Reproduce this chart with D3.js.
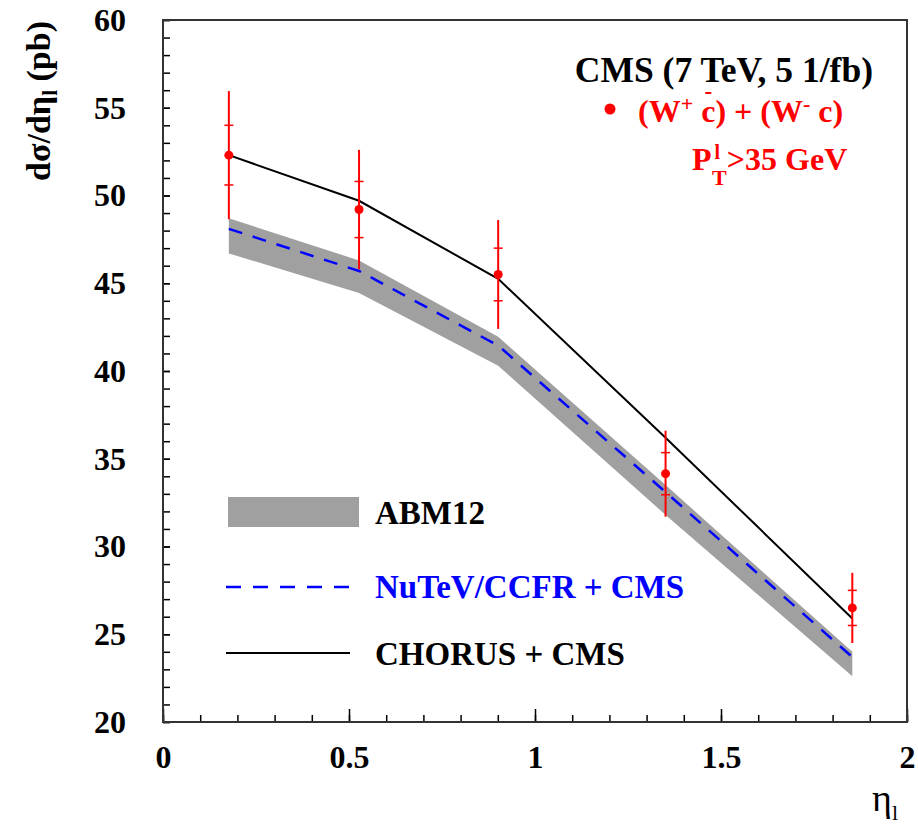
<!DOCTYPE html>
<html>
<head>
<meta charset="utf-8">
<script src="https://cdn.jsdelivr.net/npm/d3@7"></script>
<style>
  body { margin: 0; background: #fff; }
  svg text { font-family: "Liberation Serif", "Times New Roman", serif; font-weight: bold; }
</style>
</head>
<body>
<svg id="chart" width="918" height="825"></svg>
<script>
// pontos medidos (CMS)
const eta = [0.177, 0.527, 0.901, 1.351, 1.853];
const xsec = [52.3, 49.2, 45.5, 34.15, 26.5];
const errStat = [1.7, 1.6, 1.5, 1.2, 1.0];
const errTot = [3.65, 3.4, 3.1, 2.45, 2.0];

// predicoes
const abmUp = [48.7, 46.3, 41.95, 33.5, 24.0];
const abmDown = [46.7, 44.45, 40.3, 31.8, 22.6];
const nutev = [48.1, 45.7, 41.45, 33.1, 23.7];
const chorus = [52.3, 49.7, 45.25, 36.2, 25.9];

// eixos
const xTicks = [0, 0.5, 1, 1.5, 2];
const yTicks = [20, 25, 30, 35, 40, 45, 50, 55, 60];
const xMinor = d3.range(0, 2.001, 0.1);
const yMinor = d3.range(20, 60.001, 1);

const margens = { left: 163, right: 11, top: 20, bottom: 103 };

const svg = d3.select('#chart');
const width = 918 - margens.left - margens.right;
const height = 825 - margens.top - margens.bottom;

const x = d3.scaleLinear().domain([0, 2]).range([0, width]);
const y = d3.scaleLinear().domain([20, 60]).range([height, 0]);

const g = svg.append('g')
    .attr('transform', `translate(${margens.left}, ${margens.top})`);

const data = eta.map((e, i) => ({
    eta: e, v: xsec[i], stat: errStat[i], tot: errTot[i],
    up: abmUp[i], down: abmDown[i], nu: nutev[i], ch: chorus[i]
}));

// banda ABM12
g.append('path')
    .datum(data)
    .attr('fill', '#a0a0a0')
    .attr('d', d3.area().x(d => x(d.eta)).y0(d => y(d.down)).y1(d => y(d.up)));

// NuTeV/CCFR tracejado
g.append('path')
    .datum(data)
    .attr('fill', 'none')
    .attr('stroke', '#0000ff')
    .attr('stroke-width', 2.5)
    .attr('stroke-dasharray', '14,11')
    .attr('d', d3.line().x(d => x(d.eta)).y(d => y(d.nu)));

// CHORUS
g.append('path')
    .datum(data)
    .attr('fill', 'none')
    .attr('stroke', '#000')
    .attr('stroke-width', 2)
    .attr('d', d3.line().x(d => x(d.eta)).y(d => y(d.ch)));

// barras de erro
const pts = g.selectAll('.pt').data(data).enter().append('g').attr('class', 'pt');
pts.append('line')
    .attr('x1', d => x(d.eta)).attr('x2', d => x(d.eta))
    .attr('y1', d => y(d.v + d.tot)).attr('y2', d => y(d.v - d.tot))
    .attr('stroke', '#ff0000').attr('stroke-width', 2);
[1, -1].forEach(s => {
    pts.append('line')
        .attr('x1', d => x(d.eta) - 4.5).attr('x2', d => x(d.eta) + 4.5)
        .attr('y1', d => y(d.v + s * d.stat)).attr('y2', d => y(d.v + s * d.stat))
        .attr('stroke', '#ff0000').attr('stroke-width', 1.5);
});
pts.append('circle')
    .attr('cx', d => x(d.eta)).attr('cy', d => y(d.v))
    .attr('r', 4.5).attr('fill', '#ff0000');

// Eixos
const tickStyle = sel => {
    sel.select('.domain').remove();
    sel.selectAll('.tick line').attr('stroke', '#000').attr('stroke-width', 1.5);
    sel.selectAll('.tick text').attr('fill', '#000').style('font-size', '32px');
};

g.append('g')
    .call(d3.axisLeft(y).tickValues(yMinor).tickSize(-7).tickFormat(''))
    .call(tickStyle);
g.append('g')
    .call(d3.axisLeft(y).tickValues(yTicks).tickSize(-7).tickPadding(37).tickFormat(d3.format('d')))
    .call(tickStyle);
g.append('g')
    .attr('transform', `translate(0, ${height})`)
    .call(d3.axisBottom(x).tickValues(xMinor).tickSize(-7).tickFormat(''))
    .call(tickStyle);
g.append('g')
    .attr('transform', `translate(0, ${height})`)
    .call(d3.axisBottom(x).tickValues(xTicks).tickSize(-13).tickPadding(23).tickFormat(d => String(d)))
    .call(tickStyle);

// moldura
g.append('rect')
    .attr('width', width).attr('height', height)
    .attr('fill', 'none').attr('stroke', '#333').attr('stroke-width', 2);

// titulos dos eixos
const yl = svg.append('text')
    .attr('transform', 'translate(50, 21) rotate(-90)')
    .attr('text-anchor', 'end')
    .style('font-size', '34px');
yl.append('tspan').text('dσ/dη');
yl.append('tspan').attr('dy', 7).style('font-size', '21px').text('l');
yl.append('tspan').attr('dy', -7).text(' (pb)');

const xl = svg.append('text')
    .attr('x', 872).attr('y', 811)
    .style('font-size', '38px').style('font-weight', 'normal');
xl.append('tspan').text('η');
xl.append('tspan').attr('dy', 9).style('font-size', '22px').text('l');

// cabecalho
svg.append('text')
    .attr('x', 873).attr('y', 82)
    .attr('text-anchor', 'end')
    .style('font-size', '35.5px')
    .text('CMS (7 TeV, 5 1/fb)');

svg.append('circle').attr('cx', 610).attr('cy', 109).attr('r', 5.5).attr('fill', '#ff0000');

// (W+ cbar) + (W- c)
const wl = svg.append('text')
    .attr('x', 638).attr('y', 122)
    .attr('fill', '#ff0000')
    .style('font-size', '32px');
wl.append('tspan').text('(W');
wl.append('tspan').attr('dy', -11).style('font-size', '22px').text('+');
wl.append('tspan').attr('dy', 11).text(' c) + (W');
wl.append('tspan').attr('dy', -11).style('font-size', '22px').text('-');
wl.append('tspan').attr('dy', 11).text(' c)');

// barra sobre o primeiro c
const wn = wl.node();
const cIdx = 4; // "(W" + "+" + " " -> c
const c0 = wn.getStartPositionOfChar(cIdx).x;
const c1 = wn.getEndPositionOfChar(cIdx).x;
const cm = (c0 + c1) / 2;
svg.append('line')
    .attr('x1', cm - 3).attr('x2', cm + 3)
    .attr('y1', 93).attr('y2', 93)
    .attr('stroke', '#ff0000').attr('stroke-width', 2);

// P_T^l > 35 GeV
const pt = svg.append('text')
    .attr('x', 692).attr('y', 170)
    .attr('fill', '#ff0000')
    .style('font-size', '32px');
pt.append('tspan').text('P');
pt.append('tspan').attr('dy', -11).attr('dx', 3).style('font-size', '20px').text('l');
pt.append('tspan').attr('dy', 26).attr('dx', -8).style('font-size', '22px').text('T');
pt.append('tspan').attr('dy', -15).text('>35 GeV');

// legenda
svg.append('rect').attr('x', 228).attr('y', 497).attr('width', 131).attr('height', 30).attr('fill', '#a0a0a0');
svg.append('text').attr('x', 375).attr('y', 524).style('font-size', '33px').text('ABM12');

svg.append('line').attr('x1', 226).attr('x2', 352).attr('y1', 587).attr('y2', 587)
    .attr('stroke', '#0000ff').attr('stroke-width', 2.5).attr('stroke-dasharray', '15,12');
svg.append('text').attr('x', 375).attr('y', 598).attr('fill', '#0000ff').style('font-size', '33px').text('NuTeV/CCFR + CMS');

svg.append('line').attr('x1', 226).attr('x2', 350).attr('y1', 653).attr('y2', 653)
    .attr('stroke', '#000').attr('stroke-width', 2);
svg.append('text').attr('x', 375).attr('y', 665).style('font-size', '33px').text('CHORUS + CMS');
</script>
</body>
</html>
